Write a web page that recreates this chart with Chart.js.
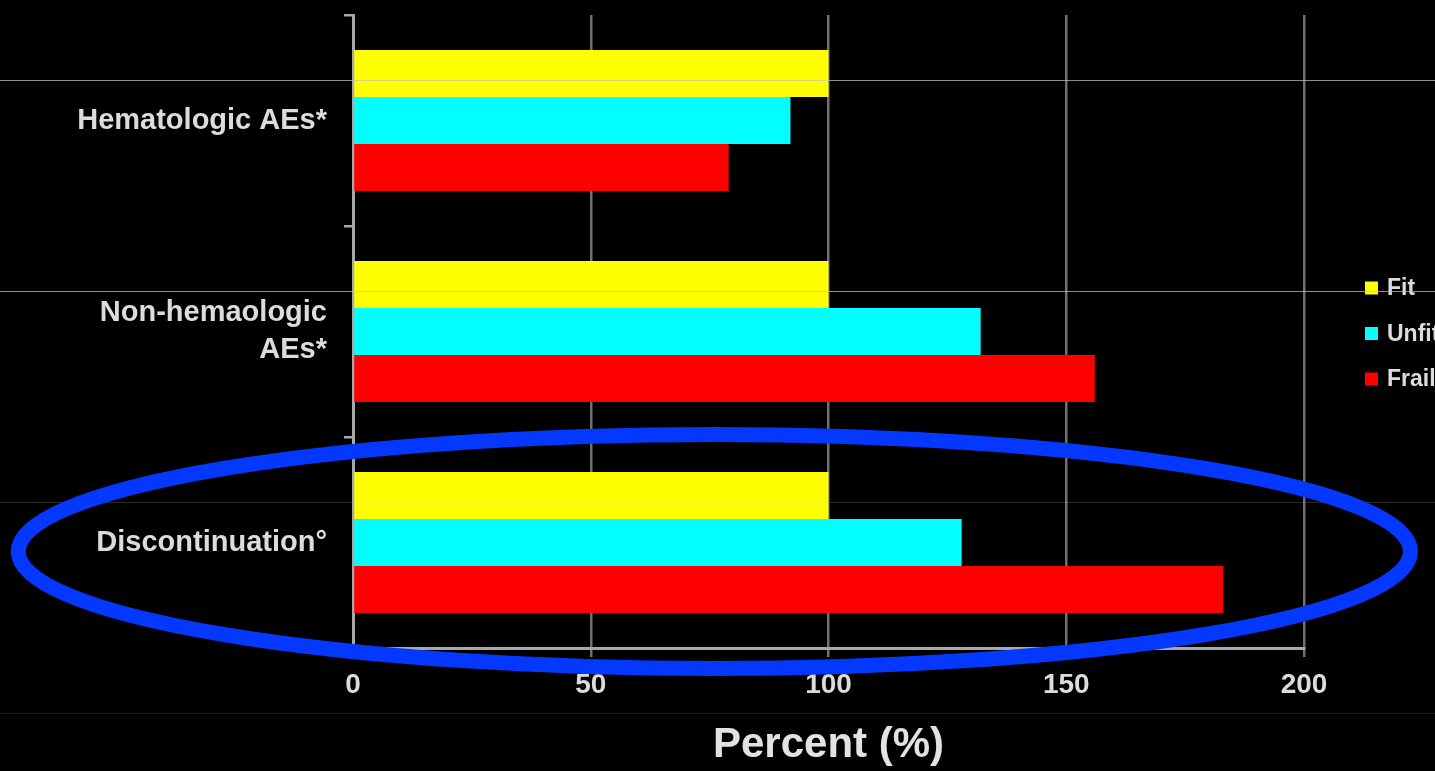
<!DOCTYPE html>
<html>
<head>
<meta charset="utf-8">
<script src="https://cdn.jsdelivr.net/npm/chart.js@4"></script>
<style>
  html, body { margin: 0; padding: 0; background: #000; overflow: hidden; }
  #wrap { width: 1435px; height: 771px; position: relative; }
  canvas { display: block; }
</style>
</head>
<body>
<div id="wrap"><canvas id="c" width="1435" height="771"></canvas></div>
<script>
// Categories (multi-line labels are arrays)
const categories = [
  ['Hematologic AEs*'],
  ['Non-hemaologic', 'AEs*'],
  ['Discontinuation°']
];

// Series values (percent relative to the Fit group)
const seriesNames = ['Fit', 'Unfit', 'Frail'];
const fitValues = [100, 100, 100];
const unfitValues = [92, 132, 128];
const frailValues = [79, 156, 183];

// Axis ticks
const xTicks = [0, 50, 100, 150, 200];
const xTitle = 'Percent (%)';

const FONT = '"Liberation Sans", Arial, Helvetica, sans-serif';
const TEXT = '#dcdcdc';
const AXIS = '#a8a8a8';
const GRID = '#707070';

// Legend drawn to the right of the plot area
const sideLegend = {
  id: 'sideLegend',
  afterDraw(chart) {
    const { ctx, chartArea } = chart;
    const midY = (chartArea.top + chartArea.bottom) / 2 + 2;
    const gap = 45.5;
    const boxX = chartArea.right + 61;
    ctx.save();
    ctx.font = 'bold 23px ' + FONT;
    ctx.textBaseline = 'middle';
    ctx.textAlign = 'left';
    chart.data.datasets.forEach((ds, i) => {
      const cy = midY + (i - 1) * gap;
      ctx.fillStyle = ds.backgroundColor;
      ctx.fillRect(boxX, cy - 6.5, 13, 13);
      ctx.fillStyle = TEXT;
      ctx.fillText(ds.label, boxX + 22, cy + 1);
    });
    ctx.restore();
  }
};

// Thin horizontal rules running across the page, and the highlight ring
const overlay = {
  id: 'overlay',
  afterDraw(chart) {
    const { ctx, width, scales } = chart;
    const y = scales.y, x = scales.x;
    const band = (y.bottom - y.top) / categories.length;
    const ruleAlpha = [0.72, 0.72, 0.22, 0.14];
    ctx.save();
    for (let i = 0; i < 4; i++) {
      const yy = Math.round(y.top + i * band + 65) + 0.5;
      ctx.strokeStyle = 'rgba(195,195,195,' + ruleAlpha[i] + ')';
      ctx.lineWidth = 1;
      ctx.beginPath();
      ctx.moveTo(0, yy);
      ctx.lineTo(width, yy);
      ctx.stroke();
    }
    // ring around the Discontinuation group
    const cx = x.getPixelForValue(76);
    const cy = y.getPixelForValue(2) + 9;
    const rx = x.getPixelForValue(146.4) - x.getPixelForValue(0);
    const ry = 117;
    ctx.strokeStyle = '#0538ff';
    ctx.lineWidth = 15;
    ctx.beginPath();
    ctx.ellipse(cx, cy, rx, ry, 0, 0, Math.PI * 2);
    ctx.stroke();
    ctx.restore();
  }
};

const colors = ['#ffff00', '#00ffff', '#ff0000'];
const values = [fitValues, unfitValues, frailValues];

new Chart(document.getElementById('c'), {
  type: 'bar',
  data: {
    labels: categories,
    datasets: seriesNames.map((name, i) => ({
      label: name,
      data: values[i],
      backgroundColor: colors[i],
      borderWidth: 0,
      categoryPercentage: 0.668,
      barPercentage: 1
    }))
  },
  options: {
    indexAxis: 'y',
    responsive: false,
    animation: false,
    devicePixelRatio: 1,
    layout: { padding: { top: 15, right: 131, left: 0, bottom: 0 } },
    plugins: {
      legend: { display: false },
      tooltip: { enabled: false }
    },
    scales: {
      x: {
        min: 0,
        max: 200,
        afterBuildTicks(scale) { scale.ticks = xTicks.map(v => ({ value: v })); },
        afterFit(scale) { scale.height = 123; },
        ticks: {
          color: TEXT,
          font: { family: FONT, size: 28, weight: 'bold' },
          padding: 11,
          maxRotation: 0
        },
        grid: {
          color: GRID,
          lineWidth: 2.5,
          tickLength: 9,
          tickColor: GRID
        },
        border: { color: AXIS, width: 3 },
        title: {
          display: true,
          text: xTitle,
          color: '#e2e2e2',
          font: { family: FONT, size: 42, weight: 'bold' },
          padding: { top: 0, bottom: 0 }
        }
      },
      y: {
        afterFit(scale) {
          scale.width = 353;
          scale.paddingTop = 0;
          scale.paddingBottom = 0;
        },
        ticks: {
          color: TEXT,
          font: { family: FONT, size: 29, weight: 'bold', lineHeight: 1.25 },
          padding: 17
        },
        grid: {
          drawOnChartArea: false,
          tickLength: 9,
          tickColor: AXIS,
          lineWidth: 2.5
        },
        border: { color: AXIS, width: 3 }
      }
    }
  },
  plugins: [sideLegend, overlay]
});
</script>
</body>
</html>
